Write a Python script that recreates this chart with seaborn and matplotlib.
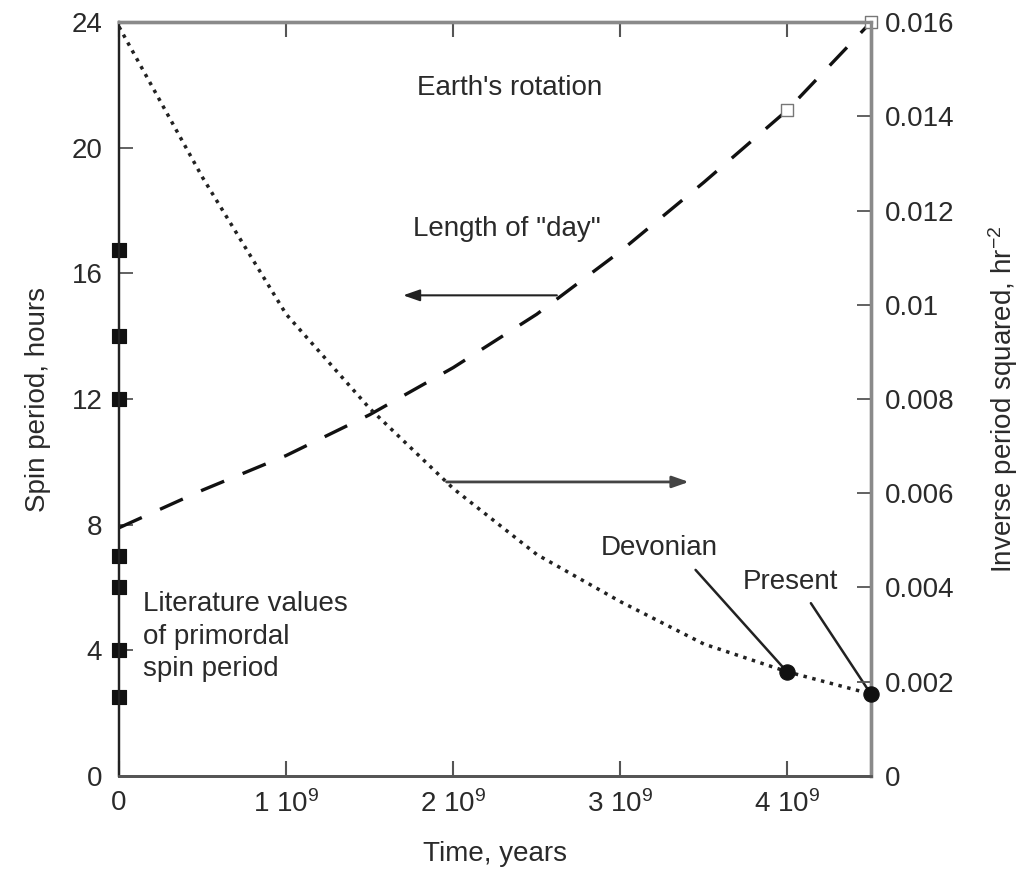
import matplotlib
matplotlib.use("Agg")
import matplotlib.pyplot as plt
import seaborn as sns
import pandas as pd
import numpy as np

# ---- data ----
time_day = [0.0, 0.5e9, 1.0e9, 1.5e9, 2.0e9, 2.5e9, 3.0e9, 3.5e9, 4.0e9, 4.5e9]
length_of_day = [7.9, 9.1, 10.2, 11.5, 13.0, 14.7, 16.7, 18.9, 21.2, 24.0]

time_inv = [0.0, 0.5e9, 1.0e9, 1.5e9, 2.0e9, 2.5e9, 3.0e9, 3.5e9, 4.0e9, 4.5e9]
inv_period_sq = [0.0159, 0.0127, 0.0098, 0.0078, 0.0061, 0.0047, 0.0037, 0.0028, 0.00221, 0.00174]

lit_time = [0, 0, 0, 0, 0, 0, 0]
lit_period = [16.75, 14.0, 12.0, 7.0, 6.0, 4.0, 2.5]

obs_time = [4.0e9, 4.5e9]
obs_period = [21.2, 24.0]
obs_inv = [0.00221, 0.00174]

x_ticks = [0, 1e9, 2e9, 3e9, 4e9]
x_ticklabels = ["0", r"1 10$^{9}$", r"2 10$^{9}$", r"3 10$^{9}$", r"4 10$^{9}$"]
left_ticks = [0, 4, 8, 12, 16, 20, 24]
left_ticklabels = ["0", "4", "8", "12", "16", "20", "24"]
right_ticks = [0, 0.002, 0.004, 0.006, 0.008, 0.010, 0.012, 0.014, 0.016]
right_ticklabels = ["0", "0.002", "0.004", "0.006", "0.008", "0.01", "0.012", "0.014", "0.016"]

# ---- style ----
sns.set_style("white")
plt.rcParams["font.family"] = ["Liberation Sans", "DejaVu Sans"]
plt.rcParams["mathtext.fontset"] = "custom"
plt.rcParams["mathtext.rm"] = "Liberation Sans"
plt.rcParams["mathtext.it"] = "Liberation Sans"
FS = 20
TXT = "#2a2a2a"

fig = plt.figure(figsize=(10.34, 8.71), dpi=100)
ax = fig.add_axes([0.1151, 0.1091, 0.7273, 0.8656])
ax2 = ax.twinx()

df_day = pd.DataFrame({"t": time_day, "v": length_of_day})
df_inv = pd.DataFrame({"t": time_inv, "v": inv_period_sq})
df_lit = pd.DataFrame({"t": lit_time, "v": lit_period})
df_obs = pd.DataFrame({"t": obs_time, "p": obs_period, "i": obs_inv})

sns.lineplot(data=df_day, x="t", y="v", ax=ax, color="#111111", lw=2.4,
             linestyle=(0, (7.5, 6)), legend=False)
sns.scatterplot(data=df_lit, x="t", y="v", ax=ax, marker="s", s=105,
                color="#111111", edgecolor="#111111", clip_on=False, zorder=5)
sns.scatterplot(data=df_obs, x="t", y="p", ax=ax, marker="s", s=75,
                facecolor="white", edgecolor="#777777", linewidth=1.0,
                clip_on=False, zorder=5)

sns.lineplot(data=df_inv, x="t", y="v", ax=ax2, color="#222222", lw=2.5,
             linestyle=(0, (1, 1.6)), legend=False)
sns.scatterplot(data=df_obs, x="t", y="i", ax=ax2, marker="o", s=120,
                color="#111111", edgecolor="#111111", clip_on=False, zorder=6)

ax.set_xlim(0, 4.5e9)
ax.set_ylim(0, 24)
ax2.set_ylim(0, 0.016)

ax.set_xticks(x_ticks)
ax.set_xticklabels(x_ticklabels, fontsize=FS, color=TXT)
ax.set_yticks(left_ticks)
ax.set_yticklabels(left_ticklabels, fontsize=FS, color=TXT)
ax2.set_yticks(right_ticks)
ax2.set_yticklabels(right_ticklabels, fontsize=FS, color=TXT)

ax.tick_params(axis="x", direction="in", length=11, width=1.5, colors="#555555",
               top=True, bottom=True, pad=10, labelcolor=TXT)
ax.tick_params(axis="y", direction="in", length=10, width=1.3, colors="#555555",
               left=True, right=False, pad=12, labelcolor=TXT)
ax2.tick_params(axis="y", direction="in", length=10, width=1.3, colors="#555555",
                right=True, pad=10, labelcolor=TXT)

ax.set_xlabel("Time, years", fontsize=FS, color=TXT, labelpad=17)
ax.set_ylabel("Spin period, hours", fontsize=FS, color=TXT, labelpad=15)
ax2.set_ylabel(r"Inverse period squared, hr$^{-2}$", fontsize=FS, color=TXT, labelpad=23)

for a in (ax, ax2):
    a.spines["top"].set_color("#8a8a8a")
    a.spines["top"].set_linewidth(2.4)
    a.spines["right"].set_color("#8a8a8a")
    a.spines["right"].set_linewidth(2.4)
    a.spines["left"].set_color("#222222")
    a.spines["left"].set_linewidth(1.6)
    a.spines["bottom"].set_color("#555555")
    a.spines["bottom"].set_linewidth(2.0)

# ---- annotations ----
ax.text(2.34e9, 21.9, "Earth's rotation", fontsize=FS, color=TXT, ha="center", va="center")
ax.text(1.76e9, 17.4, 'Length of "day"', fontsize=FS, color=TXT, ha="left", va="center")
ax.text(0.145e9, 4.43, "Literature values\nof primordal\nspin period", fontsize=FS,
        color=TXT, ha="left", va="center", linespacing=1.33)
ax.text(3.23e9, 7.26, "Devonian", fontsize=FS, color=TXT, ha="center", va="center")
ax.text(4.02e9, 6.18, "Present", fontsize=FS, color=TXT, ha="center", va="center")

ax.annotate("", xy=(1.70e9, 15.3), xytext=(2.62e9, 15.3),
            arrowprops=dict(arrowstyle="-|>,head_length=1.0,head_width=0.35",
                            color="#222222", lw=1.5, shrinkA=0, shrinkB=0))
ax.annotate("", xy=(3.41e9, 9.36), xytext=(1.96e9, 9.36),
            arrowprops=dict(arrowstyle="-|>,head_length=1.0,head_width=0.35",
                            color="#444444", lw=2.0, shrinkA=0, shrinkB=0))
ax.annotate("", xy=(4.0e9, 3.3), xytext=(3.45e9, 6.56),
            arrowprops=dict(arrowstyle="-", color="#222222", lw=1.8, shrinkA=0, shrinkB=0))
ax.annotate("", xy=(4.5e9, 2.6), xytext=(4.14e9, 5.5),
            arrowprops=dict(arrowstyle="-", color="#222222", lw=1.8, shrinkA=0, shrinkB=0))

fig.savefig("out.png", dpi=100, facecolor="white")
